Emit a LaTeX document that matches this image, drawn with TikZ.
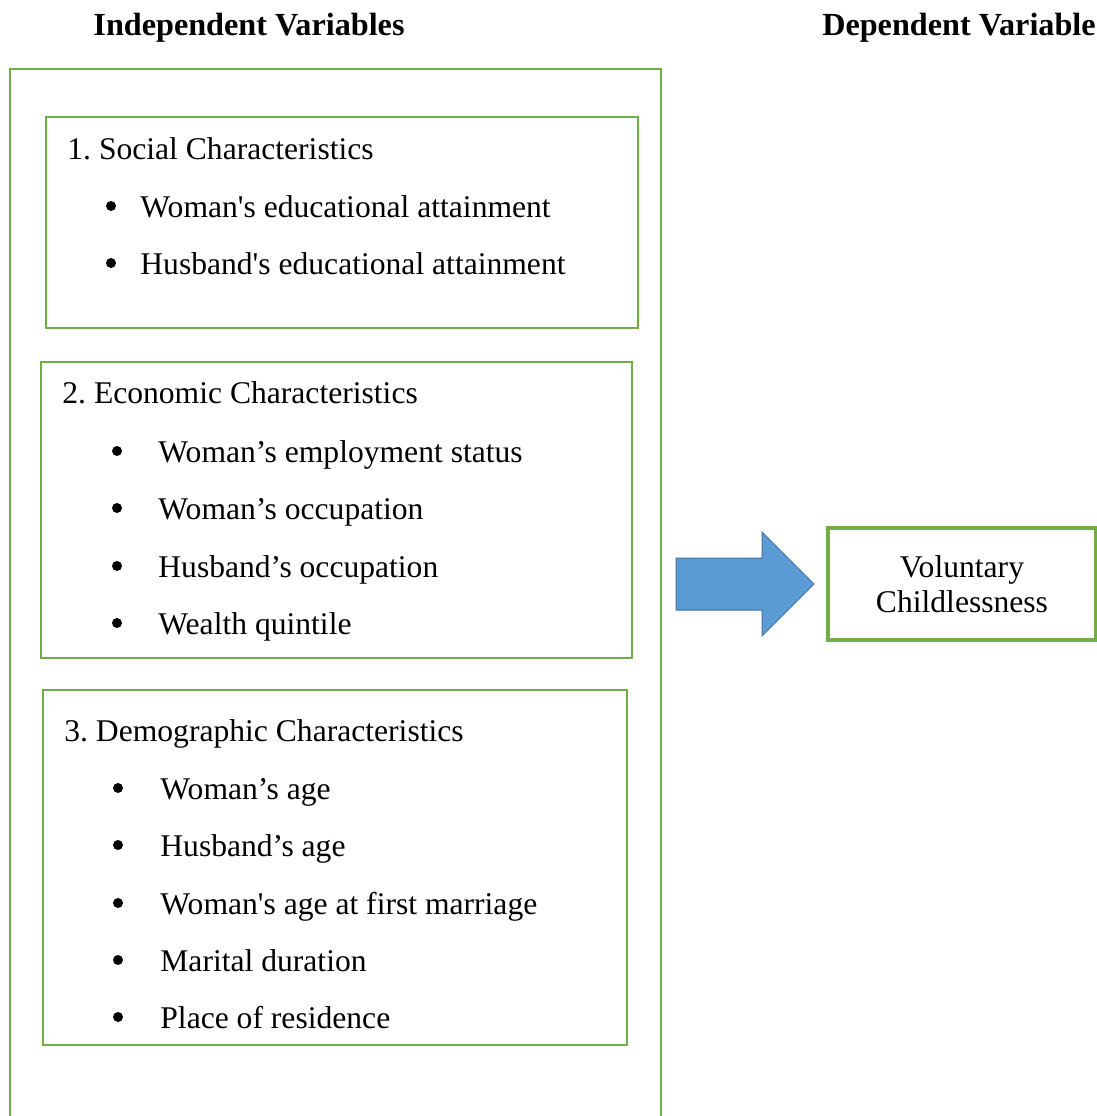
\documentclass[tikz,border=0pt]{standalone}
\usepackage{fontspec}
\setmainfont{Liberation Serif}
\usetikzlibrary{positioning}

\definecolor{boxgreen}{HTML}{70AD47}
\definecolor{arrowblue}{HTML}{5B9BD5}
\definecolor{arrowedge}{HTML}{41719C}

\newcommand{\bodyfont}{\fontsize{15.8}{17.2}\selectfont}
\tikzset{
  groupbox/.style={draw=boxgreen, line width=1.3pt, inner sep=0pt},
  outerbox/.style={draw=boxgreen, line width=1.2pt, inner sep=0pt},
  depbox/.style={draw=boxgreen, line width=2pt, align=center, inner sep=0pt},
  title/.style={font=\fontsize{16.1}{18}\selectfont\bfseries, inner sep=0pt, anchor=base},
  head/.style={inner sep=0pt, anchor=base west},
  item/.style={inner sep=0pt, anchor=base west},
  dot/.style={circle, fill=black, inner sep=0pt, minimum size=5pt},
  bigarrow/.style={fill=arrowblue, draw=arrowedge, line width=0.5pt, line join=miter}
}
\newcommand{\sq}{\textquotesingle}

\begin{document}
\begin{tikzpicture}[x=0.5pt, y=-0.5pt, font=\bodyfont]
\useasboundingbox (0,0) rectangle (1097,1116);

% titles
\node[title] (indep) at (249,35) {Independent Variables};
\node[title] (dep) at (959,35) {Dependent Variable};

% outer frame, open at the bottom
\draw[outerbox] (10,1130) -- (10,69) -- (661,69) -- (661,1130);

% boxes
\draw[groupbox] (46,117) rectangle (638,328);
\draw[groupbox] (41,362) rectangle (632,658);
\draw[groupbox] (43,690) rectangle (627,1045);

% social
\node[head] (soc) at (67,159) {1.\ Social Characteristics};
\foreach \y/\t in {217/Woman\sq s educational attainment,
                   274/Husband\sq s educational attainment}{
  \node[dot] at (111,\y-11) {};
  \node[item] at (140,\y) {\t};
}

% economic
\node[head] (eco) at (62,403) {2.\ Economic Characteristics};
\foreach \y/\t in {462/Woman’s employment status,
                   519/Woman’s occupation,
                   577/Husband’s occupation,
                   634/Wealth quintile}{
  \node[dot] at (117,\y-11) {};
  \node[item] at (158,\y) {\t};
}

% demographic
\node[head] (dem) at (64,741) {3.\ Demographic Characteristics};
\foreach \y/\t in {799/Woman’s age,
                   856/Husband’s age,
                   914/Woman\sq s age at first marriage,
                   971/Marital duration,
                   1028/Place of residence}{
  \node[dot] at (118,\y-11) {};
  \node[item] at (160,\y) {\t};
}

% dependent variable
\node[depbox, minimum width=134pt, minimum height=56pt] (vc) at (962,584)
  {Voluntary\\Childlessness};

% arrow
\draw[bigarrow] (676,558) -- (762,558) -- (762,532) -- (814,584)
  -- (762,636) -- (762,610) -- (676,610) -- cycle;
\end{tikzpicture}
\end{document}
